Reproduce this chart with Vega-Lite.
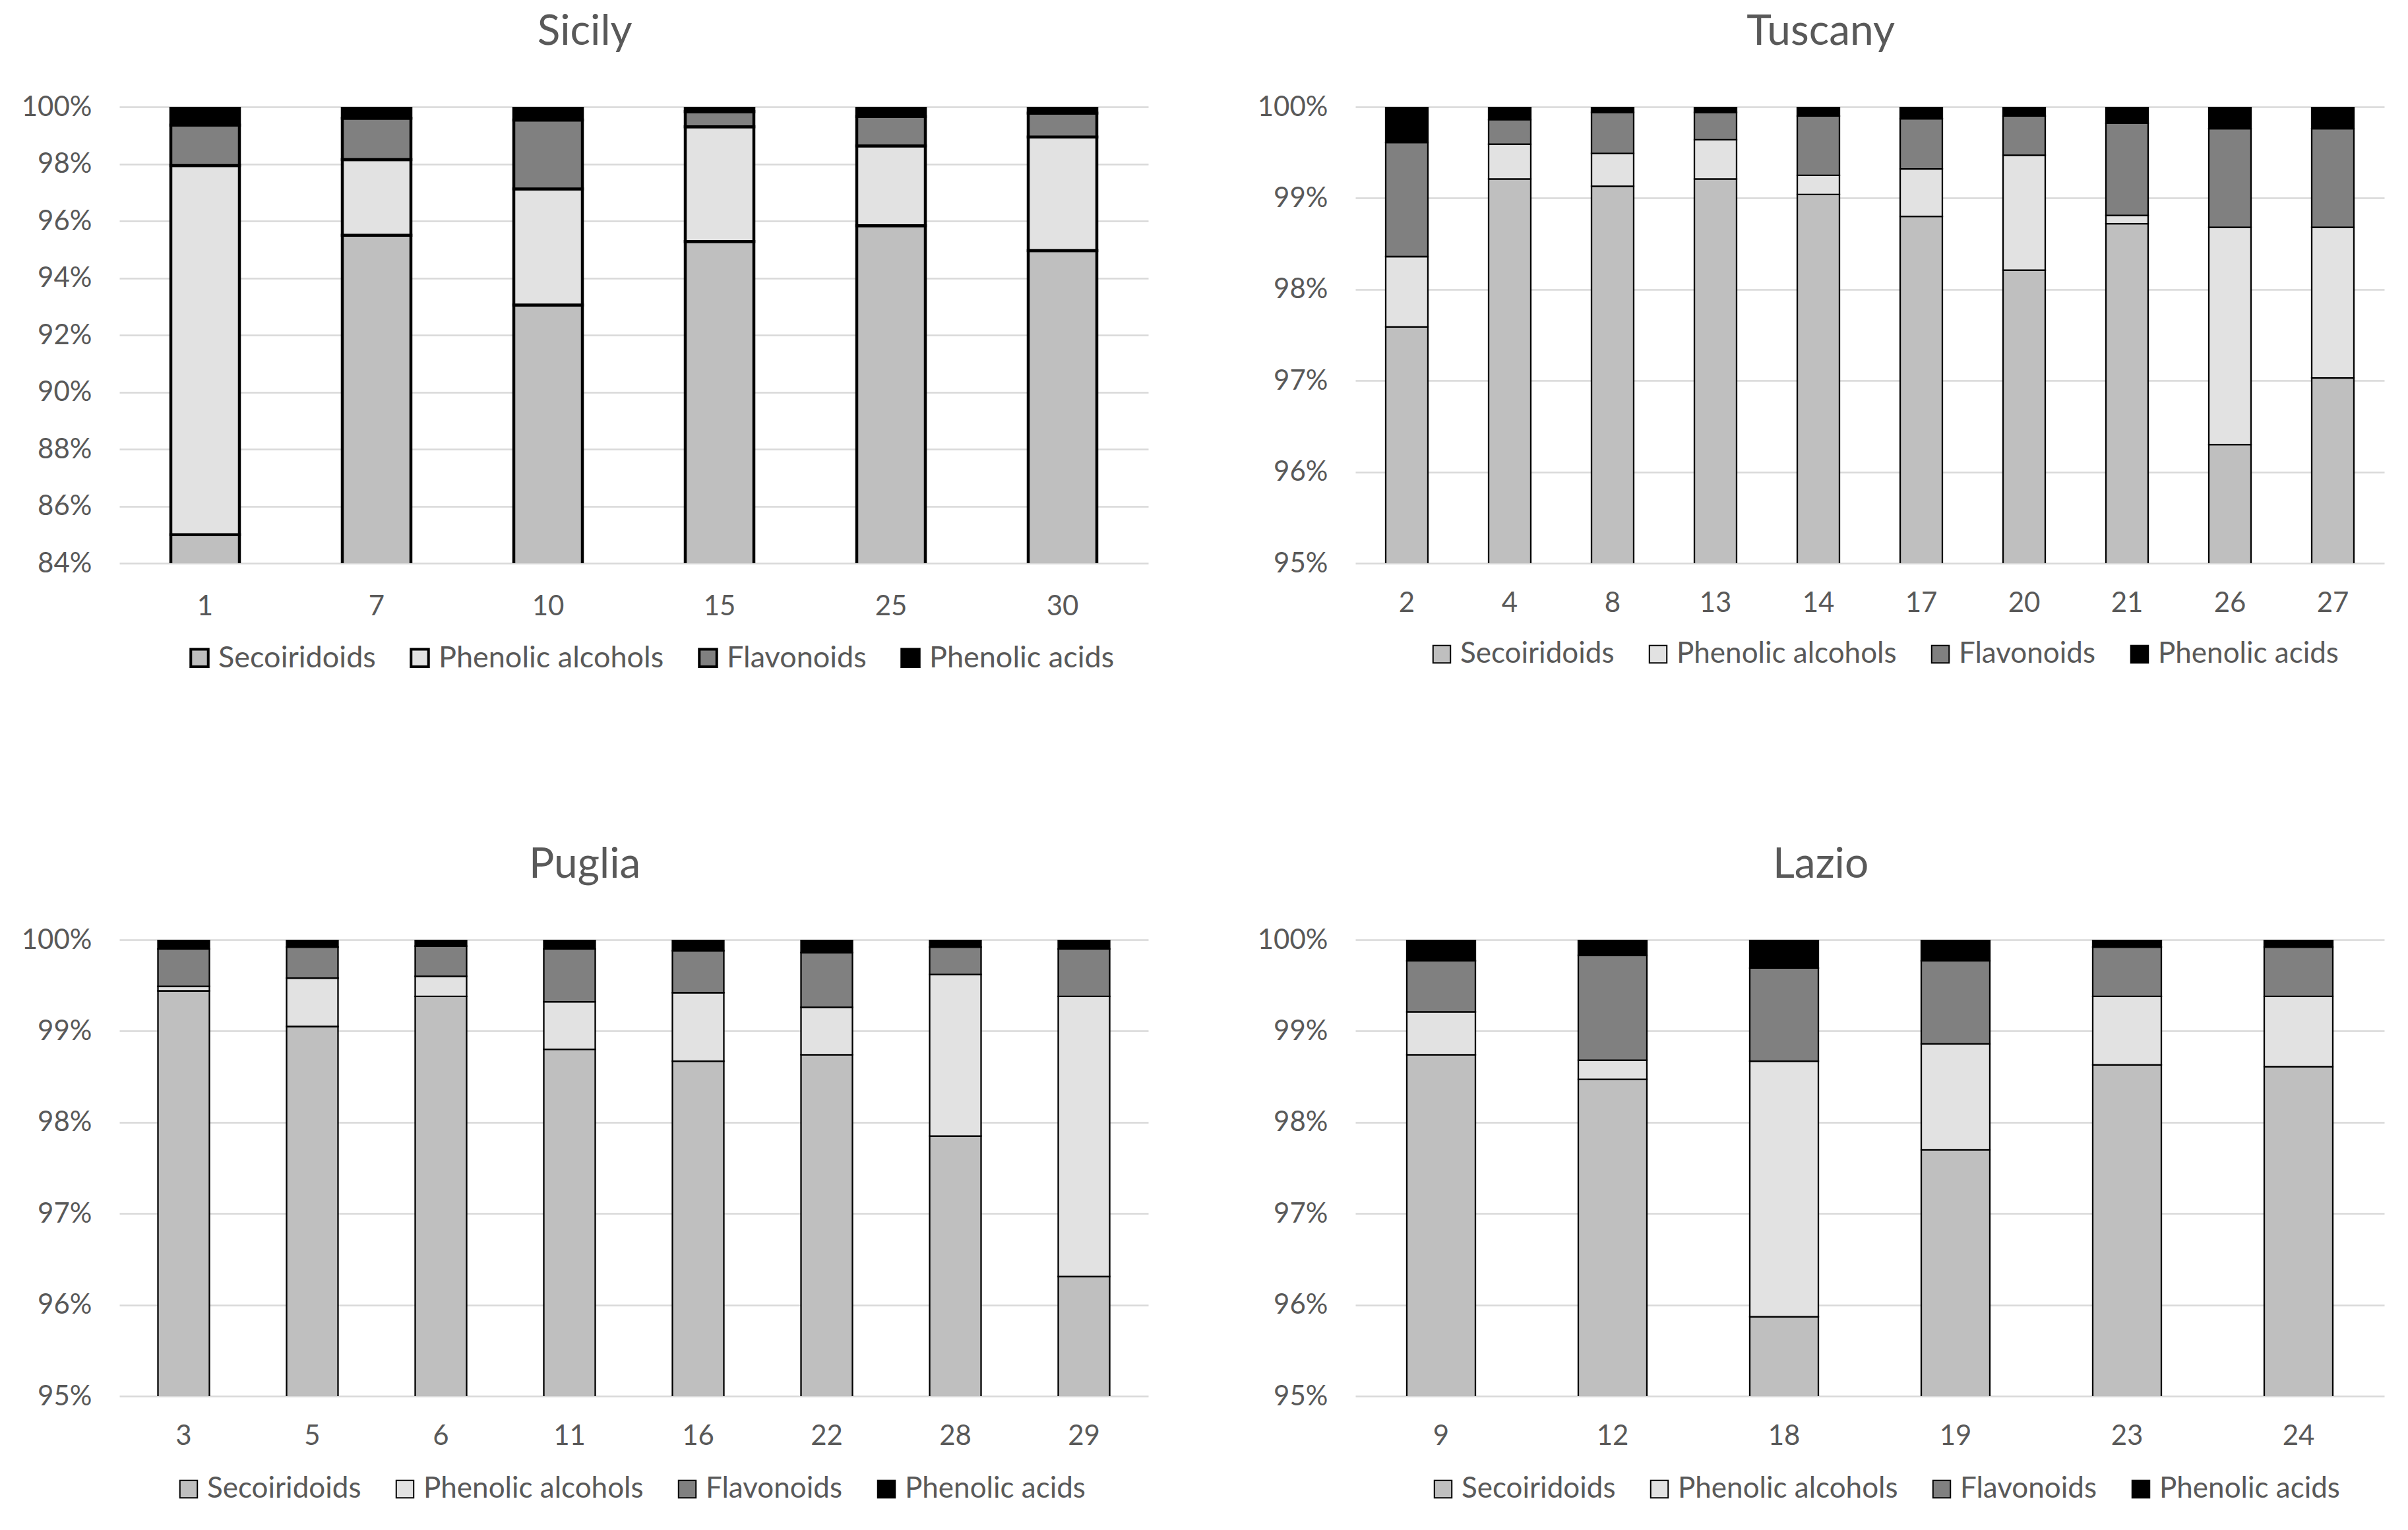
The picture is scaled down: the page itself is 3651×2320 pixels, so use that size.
{
  "$schema": "https://vega.github.io/schema/vega-lite/v6.json",
  "background": "white",
  "padding": {"left": 32, "top": 17, "right": 10, "bottom": 10},
  "config": {
    "font": "Lato",
    "view": {"stroke": null},
    "axis": {"labelFont": "Lato", "labelFontSize": 42, "labelColor": "#595959", "ticks": false, "domain": false, "title": null, "gridColor": "#d9d9d9", "gridWidth": 2.5},
    "axisX": {"grid": false, "labelAngle": 0, "labelPadding": 40},
    "axisY": {"labelPadding": 42},
    "legend": {"labelFont": "Lato", "labelFontSize": 44, "labelColor": "#595959", "symbolType": "square", "symbolSize": 700, "symbolStrokeColor": "black", "columnPadding": 44, "labelOffset": 6, "padding": 0, "title": null, "labelLimit": 600},
    "title": {"font": "Lato", "fontSize": 64, "fontWeight": "normal", "color": "#595959", "frame": "bounds", "anchor": "middle"}
  },
  "datasets": {
    "phenolics": [
      {"region": "Sicily", "sample": 1, "class": "Secoiridoids", "value": 85.00},
      {"region": "Sicily", "sample": 1, "class": "Phenolic alcohols", "value": 12.94},
      {"region": "Sicily", "sample": 1, "class": "Flavonoids", "value": 1.42},
      {"region": "Sicily", "sample": 1, "class": "Phenolic acids", "value": 0.64},
      {"region": "Sicily", "sample": 7, "class": "Secoiridoids", "value": 95.50},
      {"region": "Sicily", "sample": 7, "class": "Phenolic alcohols", "value": 2.65},
      {"region": "Sicily", "sample": 7, "class": "Flavonoids", "value": 1.45},
      {"region": "Sicily", "sample": 7, "class": "Phenolic acids", "value": 0.40},
      {"region": "Sicily", "sample": 10, "class": "Secoiridoids", "value": 93.05},
      {"region": "Sicily", "sample": 10, "class": "Phenolic alcohols", "value": 4.07},
      {"region": "Sicily", "sample": 10, "class": "Flavonoids", "value": 2.42},
      {"region": "Sicily", "sample": 10, "class": "Phenolic acids", "value": 0.46},
      {"region": "Sicily", "sample": 15, "class": "Secoiridoids", "value": 95.28},
      {"region": "Sicily", "sample": 15, "class": "Phenolic alcohols", "value": 4.02},
      {"region": "Sicily", "sample": 15, "class": "Flavonoids", "value": 0.53},
      {"region": "Sicily", "sample": 15, "class": "Phenolic acids", "value": 0.17},
      {"region": "Sicily", "sample": 25, "class": "Secoiridoids", "value": 95.83},
      {"region": "Sicily", "sample": 25, "class": "Phenolic alcohols", "value": 2.80},
      {"region": "Sicily", "sample": 25, "class": "Flavonoids", "value": 1.03},
      {"region": "Sicily", "sample": 25, "class": "Phenolic acids", "value": 0.34},
      {"region": "Sicily", "sample": 30, "class": "Secoiridoids", "value": 94.96},
      {"region": "Sicily", "sample": 30, "class": "Phenolic alcohols", "value": 3.98},
      {"region": "Sicily", "sample": 30, "class": "Flavonoids", "value": 0.84},
      {"region": "Sicily", "sample": 30, "class": "Phenolic acids", "value": 0.22},

      {"region": "Tuscany", "sample": 2, "class": "Secoiridoids", "value": 97.59},
      {"region": "Tuscany", "sample": 2, "class": "Phenolic alcohols", "value": 0.77},
      {"region": "Tuscany", "sample": 2, "class": "Flavonoids", "value": 1.25},
      {"region": "Tuscany", "sample": 2, "class": "Phenolic acids", "value": 0.39},
      {"region": "Tuscany", "sample": 4, "class": "Secoiridoids", "value": 99.21},
      {"region": "Tuscany", "sample": 4, "class": "Phenolic alcohols", "value": 0.38},
      {"region": "Tuscany", "sample": 4, "class": "Flavonoids", "value": 0.27},
      {"region": "Tuscany", "sample": 4, "class": "Phenolic acids", "value": 0.14},
      {"region": "Tuscany", "sample": 8, "class": "Secoiridoids", "value": 99.13},
      {"region": "Tuscany", "sample": 8, "class": "Phenolic alcohols", "value": 0.36},
      {"region": "Tuscany", "sample": 8, "class": "Flavonoids", "value": 0.45},
      {"region": "Tuscany", "sample": 8, "class": "Phenolic acids", "value": 0.06},
      {"region": "Tuscany", "sample": 13, "class": "Secoiridoids", "value": 99.21},
      {"region": "Tuscany", "sample": 13, "class": "Phenolic alcohols", "value": 0.43},
      {"region": "Tuscany", "sample": 13, "class": "Flavonoids", "value": 0.30},
      {"region": "Tuscany", "sample": 13, "class": "Phenolic acids", "value": 0.06},
      {"region": "Tuscany", "sample": 14, "class": "Secoiridoids", "value": 99.04},
      {"region": "Tuscany", "sample": 14, "class": "Phenolic alcohols", "value": 0.21},
      {"region": "Tuscany", "sample": 14, "class": "Flavonoids", "value": 0.65},
      {"region": "Tuscany", "sample": 14, "class": "Phenolic acids", "value": 0.10},
      {"region": "Tuscany", "sample": 17, "class": "Secoiridoids", "value": 98.80},
      {"region": "Tuscany", "sample": 17, "class": "Phenolic alcohols", "value": 0.52},
      {"region": "Tuscany", "sample": 17, "class": "Flavonoids", "value": 0.55},
      {"region": "Tuscany", "sample": 17, "class": "Phenolic acids", "value": 0.13},
      {"region": "Tuscany", "sample": 20, "class": "Secoiridoids", "value": 98.21},
      {"region": "Tuscany", "sample": 20, "class": "Phenolic alcohols", "value": 1.26},
      {"region": "Tuscany", "sample": 20, "class": "Flavonoids", "value": 0.43},
      {"region": "Tuscany", "sample": 20, "class": "Phenolic acids", "value": 0.10},
      {"region": "Tuscany", "sample": 21, "class": "Secoiridoids", "value": 98.72},
      {"region": "Tuscany", "sample": 21, "class": "Phenolic alcohols", "value": 0.09},
      {"region": "Tuscany", "sample": 21, "class": "Flavonoids", "value": 1.01},
      {"region": "Tuscany", "sample": 21, "class": "Phenolic acids", "value": 0.18},
      {"region": "Tuscany", "sample": 26, "class": "Secoiridoids", "value": 96.30},
      {"region": "Tuscany", "sample": 26, "class": "Phenolic alcohols", "value": 2.38},
      {"region": "Tuscany", "sample": 26, "class": "Flavonoids", "value": 1.08},
      {"region": "Tuscany", "sample": 26, "class": "Phenolic acids", "value": 0.24},
      {"region": "Tuscany", "sample": 27, "class": "Secoiridoids", "value": 97.03},
      {"region": "Tuscany", "sample": 27, "class": "Phenolic alcohols", "value": 1.65},
      {"region": "Tuscany", "sample": 27, "class": "Flavonoids", "value": 1.08},
      {"region": "Tuscany", "sample": 27, "class": "Phenolic acids", "value": 0.24},

      {"region": "Puglia", "sample": 3, "class": "Secoiridoids", "value": 99.44},
      {"region": "Puglia", "sample": 3, "class": "Phenolic alcohols", "value": 0.05},
      {"region": "Puglia", "sample": 3, "class": "Flavonoids", "value": 0.41},
      {"region": "Puglia", "sample": 3, "class": "Phenolic acids", "value": 0.10},
      {"region": "Puglia", "sample": 5, "class": "Secoiridoids", "value": 99.05},
      {"region": "Puglia", "sample": 5, "class": "Phenolic alcohols", "value": 0.53},
      {"region": "Puglia", "sample": 5, "class": "Flavonoids", "value": 0.34},
      {"region": "Puglia", "sample": 5, "class": "Phenolic acids", "value": 0.08},
      {"region": "Puglia", "sample": 6, "class": "Secoiridoids", "value": 99.38},
      {"region": "Puglia", "sample": 6, "class": "Phenolic alcohols", "value": 0.22},
      {"region": "Puglia", "sample": 6, "class": "Flavonoids", "value": 0.33},
      {"region": "Puglia", "sample": 6, "class": "Phenolic acids", "value": 0.07},
      {"region": "Puglia", "sample": 11, "class": "Secoiridoids", "value": 98.80},
      {"region": "Puglia", "sample": 11, "class": "Phenolic alcohols", "value": 0.52},
      {"region": "Puglia", "sample": 11, "class": "Flavonoids", "value": 0.58},
      {"region": "Puglia", "sample": 11, "class": "Phenolic acids", "value": 0.10},
      {"region": "Puglia", "sample": 16, "class": "Secoiridoids", "value": 98.67},
      {"region": "Puglia", "sample": 16, "class": "Phenolic alcohols", "value": 0.75},
      {"region": "Puglia", "sample": 16, "class": "Flavonoids", "value": 0.46},
      {"region": "Puglia", "sample": 16, "class": "Phenolic acids", "value": 0.12},
      {"region": "Puglia", "sample": 22, "class": "Secoiridoids", "value": 98.74},
      {"region": "Puglia", "sample": 22, "class": "Phenolic alcohols", "value": 0.52},
      {"region": "Puglia", "sample": 22, "class": "Flavonoids", "value": 0.60},
      {"region": "Puglia", "sample": 22, "class": "Phenolic acids", "value": 0.14},
      {"region": "Puglia", "sample": 28, "class": "Secoiridoids", "value": 97.85},
      {"region": "Puglia", "sample": 28, "class": "Phenolic alcohols", "value": 1.77},
      {"region": "Puglia", "sample": 28, "class": "Flavonoids", "value": 0.30},
      {"region": "Puglia", "sample": 28, "class": "Phenolic acids", "value": 0.08},
      {"region": "Puglia", "sample": 29, "class": "Secoiridoids", "value": 96.31},
      {"region": "Puglia", "sample": 29, "class": "Phenolic alcohols", "value": 3.07},
      {"region": "Puglia", "sample": 29, "class": "Flavonoids", "value": 0.52},
      {"region": "Puglia", "sample": 29, "class": "Phenolic acids", "value": 0.10},

      {"region": "Lazio", "sample": 9, "class": "Secoiridoids", "value": 98.74},
      {"region": "Lazio", "sample": 9, "class": "Phenolic alcohols", "value": 0.47},
      {"region": "Lazio", "sample": 9, "class": "Flavonoids", "value": 0.56},
      {"region": "Lazio", "sample": 9, "class": "Phenolic acids", "value": 0.23},
      {"region": "Lazio", "sample": 12, "class": "Secoiridoids", "value": 98.47},
      {"region": "Lazio", "sample": 12, "class": "Phenolic alcohols", "value": 0.21},
      {"region": "Lazio", "sample": 12, "class": "Flavonoids", "value": 1.15},
      {"region": "Lazio", "sample": 12, "class": "Phenolic acids", "value": 0.17},
      {"region": "Lazio", "sample": 18, "class": "Secoiridoids", "value": 95.87},
      {"region": "Lazio", "sample": 18, "class": "Phenolic alcohols", "value": 2.80},
      {"region": "Lazio", "sample": 18, "class": "Flavonoids", "value": 1.02},
      {"region": "Lazio", "sample": 18, "class": "Phenolic acids", "value": 0.31},
      {"region": "Lazio", "sample": 19, "class": "Secoiridoids", "value": 97.70},
      {"region": "Lazio", "sample": 19, "class": "Phenolic alcohols", "value": 1.16},
      {"region": "Lazio", "sample": 19, "class": "Flavonoids", "value": 0.91},
      {"region": "Lazio", "sample": 19, "class": "Phenolic acids", "value": 0.23},
      {"region": "Lazio", "sample": 23, "class": "Secoiridoids", "value": 98.63},
      {"region": "Lazio", "sample": 23, "class": "Phenolic alcohols", "value": 0.75},
      {"region": "Lazio", "sample": 23, "class": "Flavonoids", "value": 0.54},
      {"region": "Lazio", "sample": 23, "class": "Phenolic acids", "value": 0.08},
      {"region": "Lazio", "sample": 24, "class": "Secoiridoids", "value": 98.61},
      {"region": "Lazio", "sample": 24, "class": "Phenolic alcohols", "value": 0.77},
      {"region": "Lazio", "sample": 24, "class": "Flavonoids", "value": 0.54},
      {"region": "Lazio", "sample": 24, "class": "Phenolic acids", "value": 0.08}
    ]
  },
  "data": {"name": "phenolics"},
  "transform": [
    {"calculate": "indexof(['Secoiridoids', 'Phenolic alcohols', 'Flavonoids', 'Phenolic acids'], datum.class)", "as": "stackOrder"}
  ],
  "columns": 2,
  "spacing": {"row": 571, "column": 314},
  "bounds": "flush",
  "resolve": {"scale": {"x": "independent", "y": "independent", "color": "independent"}, "legend": {"color": "independent"}},
  "concat": [
    {
      "width": 1560, "height": 692,
      "title": {"text": "Sicily", "offset": 60},
      "transform": [{"filter": "datum.region === 'Sicily'"}],
      "mark": {"type": "bar", "clip": true, "stroke": "black", "strokeWidth": 4.5},
      "encoding": {
        "x": {"field": "sample", "type": "ordinal", "scale": {"paddingInner": 0.6, "paddingOuter": 0.3}, "axis": {"labelPadding": 45}},
        "y": {"field": "value", "type": "quantitative", "stack": "zero", "scale": {"domain": [84, 100], "nice": false, "zero": false}, "axis": {"values": [84, 86, 88, 90, 92, 94, 96, 98, 100], "labelExpr": "datum.value + '%'"}},
        "order": {"field": "stackOrder", "type": "quantitative", "sort": "ascending"},
        "color": {"field": "class", "type": "nominal",
          "scale": {"domain": ["Secoiridoids", "Phenolic alcohols", "Flavonoids", "Phenolic acids"], "range": ["#bfbfbf", "#e2e2e2", "#808080", "#000000"]},
          "legend": {"orient": "none", "direction": "horizontal", "legendX": 99, "legendY": 813, "symbolStrokeWidth": 4, "labelFontSize": 45}}
      }
    },
    {
      "width": 1560, "height": 692,
      "title": {"text": "Tuscany", "offset": 60},
      "transform": [{"filter": "datum.region === 'Tuscany'"}],
      "mark": {"type": "bar", "clip": true, "stroke": "black", "strokeWidth": 2.3},
      "encoding": {
        "x": {"field": "sample", "type": "ordinal", "scale": {"paddingInner": 0.59, "paddingOuter": 0.295}},
        "y": {"field": "value", "type": "quantitative", "stack": "zero", "scale": {"domain": [95, 100], "nice": false, "zero": false}, "axis": {"values": [95, 96, 97, 98, 99, 100], "labelExpr": "datum.value + '%'"}},
        "order": {"field": "stackOrder", "type": "quantitative", "sort": "ascending"},
        "color": {"field": "class", "type": "nominal",
          "scale": {"domain": ["Secoiridoids", "Phenolic alcohols", "Flavonoids", "Phenolic acids"], "range": ["#bfbfbf", "#e2e2e2", "#808080", "#000000"]},
          "legend": {"orient": "none", "direction": "horizontal", "legendX": 109, "legendY": 808, "symbolStrokeWidth": 2}}
      }
    },
    {
      "width": 1560, "height": 692,
      "title": {"text": "Puglia", "offset": 60},
      "transform": [{"filter": "datum.region === 'Puglia'"}],
      "mark": {"type": "bar", "clip": true, "stroke": "black", "strokeWidth": 2.3},
      "encoding": {
        "x": {"field": "sample", "type": "ordinal", "scale": {"paddingInner": 0.6, "paddingOuter": 0.3}},
        "y": {"field": "value", "type": "quantitative", "stack": "zero", "scale": {"domain": [95, 100], "nice": false, "zero": false}, "axis": {"values": [95, 96, 97, 98, 99, 100], "labelExpr": "datum.value + '%'"}},
        "order": {"field": "stackOrder", "type": "quantitative", "sort": "ascending"},
        "color": {"field": "class", "type": "nominal",
          "scale": {"domain": ["Secoiridoids", "Phenolic alcohols", "Flavonoids", "Phenolic acids"], "range": ["#bfbfbf", "#e2e2e2", "#808080", "#000000"]},
          "legend": {"orient": "none", "direction": "horizontal", "legendX": 83, "legendY": 811, "symbolStrokeWidth": 2}}
      }
    },
    {
      "width": 1560, "height": 692,
      "title": {"text": "Lazio", "offset": 60},
      "transform": [{"filter": "datum.region === 'Lazio'"}],
      "mark": {"type": "bar", "clip": true, "stroke": "black", "strokeWidth": 2.3},
      "encoding": {
        "x": {"field": "sample", "type": "ordinal", "scale": {"paddingInner": 0.6, "paddingOuter": 0.3}},
        "y": {"field": "value", "type": "quantitative", "stack": "zero", "scale": {"domain": [95, 100], "nice": false, "zero": false}, "axis": {"values": [95, 96, 97, 98, 99, 100], "labelExpr": "datum.value + '%'"}},
        "order": {"field": "stackOrder", "type": "quantitative", "sort": "ascending"},
        "color": {"field": "class", "type": "nominal",
          "scale": {"domain": ["Secoiridoids", "Phenolic alcohols", "Flavonoids", "Phenolic acids"], "range": ["#bfbfbf", "#e2e2e2", "#808080", "#000000"]},
          "legend": {"orient": "none", "direction": "horizontal", "legendX": 111, "legendY": 811, "symbolStrokeWidth": 2}}
      }
    }
  ]
}
